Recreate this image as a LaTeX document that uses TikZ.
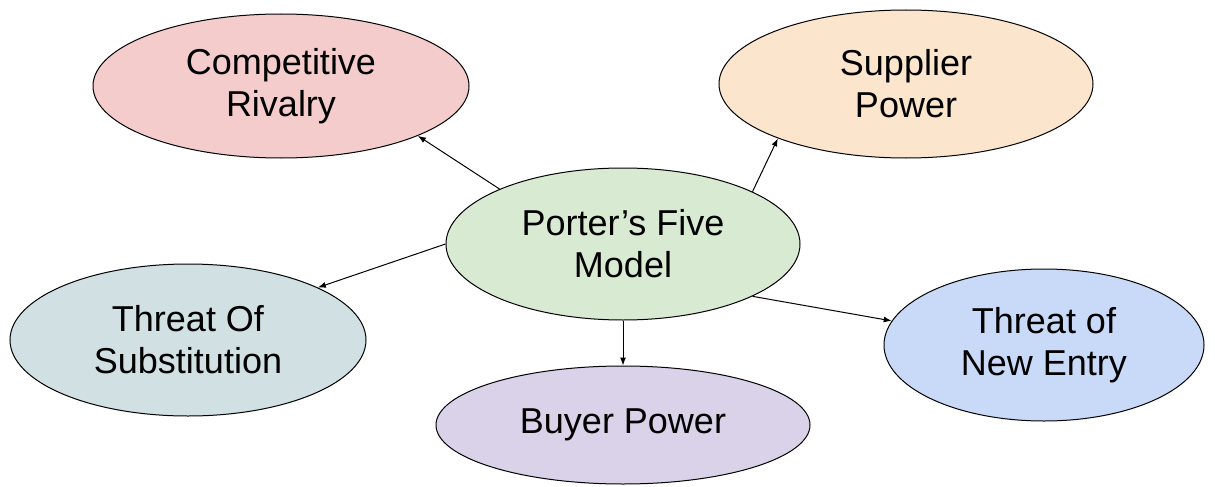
\documentclass[tikz,border=0pt]{standalone}
\usepackage{fontspec}
\setmainfont{Liberation Sans}
\usetikzlibrary{shapes.geometric,arrows.meta}
\definecolor{cpink}{HTML}{F4CCCC}
\definecolor{corange}{HTML}{FCE5CD}
\definecolor{cgreen}{HTML}{D9EAD3}
\definecolor{ccyan}{HTML}{D0E0E3}
\definecolor{cblue}{HTML}{C9DAF8}
\definecolor{cpurple}{HTML}{D9D2E9}
\tikzset{
  force/.style={ellipse, draw=black, line width=1pt, inner sep=0pt, align=center,
    font=\fontsize{36}{42}\selectfont},
  conn/.style={line width=1pt, -{Latex[length=8pt,width=6pt]}}
}
\begin{document}
\begin{tikzpicture}[x=1pt,y=-1pt]
\useasboundingbox (0,0) rectangle (1215,487);
\fill[white] (0,0) rectangle (1215,487);
\node[force, fill=cpink, minimum width=376pt, minimum height=144pt] (comp) at (281,86) {Competitive\\Rivalry};
\node[force, fill=corange, minimum width=374pt, minimum height=148pt] (supp) at (906,84) {Supplier\\Power};
\node[force, fill=cgreen, minimum width=354pt, minimum height=152pt] (port) at (623,244) {Porter’s Five\\Model};
\node[force, fill=ccyan, minimum width=356pt, minimum height=152pt] (subs) at (188,340) {Threat Of\\Substitution};
\node[force, fill=cblue, minimum width=320pt, minimum height=152pt] (newe) at (1044,345) {Threat of\\New Entry};
\node[force, fill=cpurple, minimum width=374pt, minimum height=118pt] (buye) at (623,425) {Buyer Power};
\draw[conn] (port.156.5) -- (comp.-20.7);
\draw[conn] (port.22.9) -- (supp.-157.6);
\draw[conn] (port.180) -- (subs.22.6);
\draw[conn] (port.-22.9) -- (newe.171.8);
\draw[conn] (port.-90) -- (buye.90);
\end{tikzpicture}
\end{document}
